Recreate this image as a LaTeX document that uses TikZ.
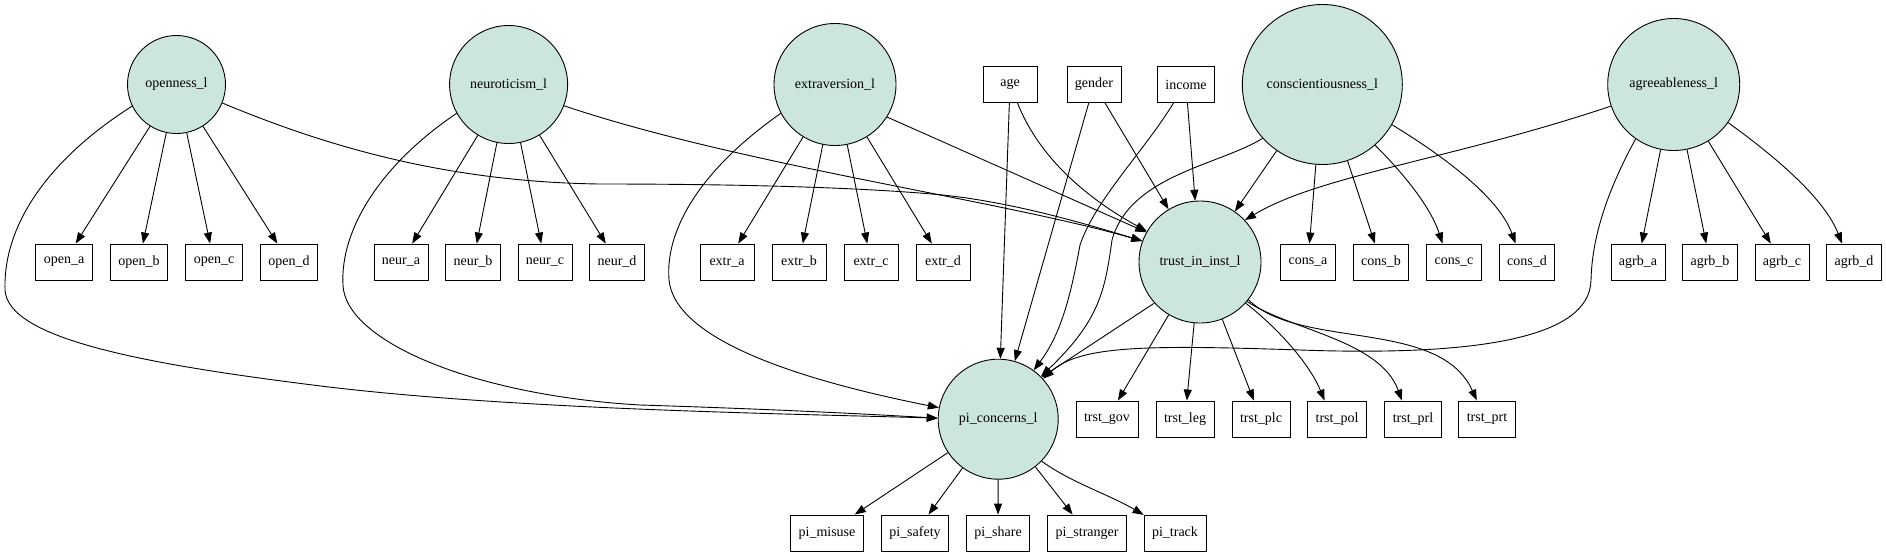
\documentclass[tikz,border=0pt]{standalone}
\usepackage{fontspec}
\setmainfont{Liberation Serif}
\usetikzlibrary{arrows.meta}
\definecolor{mint}{RGB}{204,229,222}
\begin{document}
\begin{tikzpicture}[x=1pt,y=-1pt,
  every node/.style={font=\fontsize{14pt}{16pt}\selectfont},
  latent/.style={circle,draw,fill=mint,inner sep=0pt,line width=0.9pt},
  obs/.style={rectangle,draw,minimum width=54pt,minimum height=36pt,inner xsep=8pt,inner ysep=0pt,line width=0.9pt},
  arr/.style={line width=0.9pt,-{Triangle[length=11pt,width=8pt]}}]
\useasboundingbox (0,0) rectangle (1886,555);

% latent variables
\node[latent,minimum size=98pt]  (openness) at (176.5,84.5) {openness\_l};
\node[latent,minimum size=118pt] (neuro)    at (508.6,84.5) {neuroticism\_l};
\node[latent,minimum size=122pt] (extra)    at (835,84.5)   {extraversion\_l};
\node[latent,minimum size=160pt] (consci)   at (1322.3,84.5) {conscientiousness\_l};
\node[latent,minimum size=132pt] (agree)    at (1673.7,84.5) {agreeableness\_l};
\node[latent,minimum size=122pt] (trust)    at (1200,262)   {trust\_in\_inst\_l};
\node[latent,minimum size=120pt] (pi)       at (998.2,419.2) {pi\_concerns\_l};

% covariates
\node[obs] (age)    at (1010,84.5) {age};
\node[obs] (gender) at (1094,84.5) {gender};
\node[obs] (income) at (1186,84.5) {income};

% indicators row 1
\node[obs] (opena) at (64,262)  {open\_a};
\node[obs] (openb) at (139,262) {open\_b};
\node[obs] (openc) at (214,262) {open\_c};
\node[obs] (opend) at (289,262) {open\_d};
\node[obs] (neura) at (401,262) {neur\_a};
\node[obs] (neurb) at (473,262) {neur\_b};
\node[obs] (neurc) at (545,262) {neur\_c};
\node[obs] (neurd) at (617,262) {neur\_d};
\node[obs] (exta) at (727,262) {extr\_a};
\node[obs] (extb) at (799,262) {extr\_b};
\node[obs] (extc) at (871,262) {extr\_c};
\node[obs] (extd) at (943,262) {extr\_d};
\node[obs] (consa) at (1308,262) {cons\_a};
\node[obs] (consb) at (1381,262) {cons\_b};
\node[obs] (consc) at (1454,262) {cons\_c};
\node[obs] (consd) at (1527,262) {cons\_d};
\node[obs] (agra) at (1638,262) {agrb\_a};
\node[obs] (agrb) at (1710,262) {agrb\_b};
\node[obs] (agrc) at (1782,262) {agrb\_c};
\node[obs] (agrd) at (1854,262) {agrb\_d};

% trust indicators
\node[obs] (tgov) at (1107,419) {trst\_gov};
\node[obs] (tleg) at (1185,419) {trst\_leg};
\node[obs] (tplc) at (1261,419) {trst\_plc};
\node[obs] (tpol) at (1337,419) {trst\_pol};
\node[obs] (tprl) at (1413,419) {trst\_prl};
\node[obs] (tprt) at (1487,419) {trst\_prt};

% pi indicators
\node[obs] (pmis) at (827,533)  {pi\_misuse};
\node[obs] (psaf) at (915,533)  {pi\_safety};
\node[obs] (pshr) at (998,533)  {pi\_share};
\node[obs] (pstr) at (1087,533) {pi\_stranger};
\node[obs] (ptrk) at (1175,533) {pi\_track};

% measurement edges
\foreach \s/\t in {openness/opena,openness/openb,openness/openc,openness/opend,
  neuro/neura,neuro/neurb,neuro/neurc,neuro/neurd,
  extra/exta,extra/extb,extra/extc,extra/extd,
  consci/consa,consci/consb,
  agree/agra,agree/agrb,agree/agrc,
  trust/tgov,trust/tleg,trust/tplc,
  pi/pmis,pi/psaf,pi/pshr,pi/pstr}
  \draw[arr] (\s) -- (\t);
\draw[arr] (consci.-49) .. controls (1400,170) and (1430,205) .. (consc.122);
\draw[arr] (consci.-30) .. controls (1450,160) and (1500,200) .. (consd.122);
\draw[arr] (agree.-35) .. controls (1780,160) and (1825,200) .. (agrd.123);
\draw[arr] (trust.-42) .. controls (1280,330) and (1310,365) .. (tpol.124);
\draw[arr] (trust.-40) .. controls (1290,330) and (1380,340) .. (tprl.121);
\draw[arr] (trust.-38) .. controls (1300,350) and (1440,318) .. (tprt.119);
\draw[arr] (pi.-44) .. controls (1070,482) and (1110,495) .. (ptrk.150);

% structural edges to trust
\draw[arr] (openness.-22) .. controls (330,148) and (450,182) .. (600,184)
  .. controls (750,184) and (870,188) .. (942.7,195)
  .. controls (1010,202) and (1080,222) .. (trust.160);
\draw[arr] (neuro.-21) .. controls (740,165) and (1000,200) .. (trust.160);
\draw[arr] (extra.-32) -- (trust.151);
\draw[arr] (age.-68) .. controls (1040,160) and (1090,200) .. (trust.150);
\draw[arr] (gender) -- (trust);
\draw[arr] (income) -- (trust);
\draw[arr] (consci) -- (trust);
\draw[arr] (agree.-161) .. controls (1450,160) and (1320,175) .. (trust.43);

% structural edges to pi
\draw[arr] (openness.-154) .. controls (55,155) and (3,220) .. (5,290)
  .. controls (8,340) and (150,365) .. (326.5,386.7)
  .. controls (520,410) and (800,414) .. (pi.179);
\draw[arr] (neuro.-151) .. controls (380,165) and (340,230) .. (343,285)
  .. controls (345,340) and (470,395) .. (640,405)
  .. controls (800,410) and (900,416) .. (pi.179);
\draw[arr] (extra.-152) .. controls (700,170) and (665,230) .. (669,280)
  .. controls (675,340) and (800,380) .. (pi.169);
\draw[arr] (age) -- (pi);
\draw[arr] (gender) -- (pi);
\draw[arr] (income.-124) .. controls (1145,150) and (1095,200) .. (1080,245)
  .. controls (1070,300) and (1060,335) .. (pi.54);
\draw[arr] (consci.-138) .. controls (1220,165) and (1130,175) .. (1112,240)
  .. controls (1105,290) and (1100,320) .. (pi.45);
\draw[arr] (agree.-125) .. controls (1605,195) and (1592,240) .. (1591,280)
  .. controls (1590,340) and (1470,356) .. (1300,350)
  .. controls (1150,345) and (1080,345) .. (pi.42);
\draw[arr] (trust.-138) -- (pi.44);
\end{tikzpicture}
\end{document}
